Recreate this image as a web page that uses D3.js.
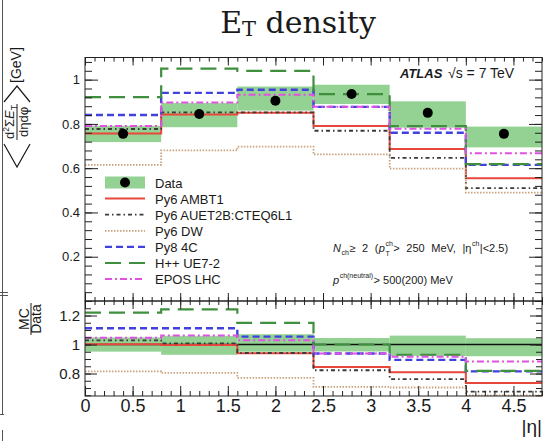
<!DOCTYPE html>
<html>
<head>
<meta charset="utf-8">
<script src="https://cdn.jsdelivr.net/npm/d3@7"></script>
<style>
  html, body { margin: 0; padding: 0; background: #fff; }
  svg { display: block; }
  text { font-family: "Liberation Sans", Arial, Helvetica, sans-serif; fill: #1a1a1a; }
</style>
</head>
<body>
<svg id="chart" width="544" height="441"></svg>
<script>
// ---- data: transverse-energy density per |eta| bin ----
const binEdges = [0, 0.8, 1.6, 2.4, 3.2, 4.0, 4.8];
const dataValues = [0.755, 0.845, 0.905, 0.935, 0.850, 0.755];
const dataErrUp   = [0.037, 0.049, 0.064, 0.042, 0.052, 0.033];
const dataErrDown = [0.037, 0.060, 0.045, 0.045, 0.067, 0.061];

const seriesNames = ["Py6 AMBT1", "Py6 AUET2B:CTEQ6L1", "Py6 DW", "Py8 4C", "H++ UE7-2", "EPOS LHC"];
const py6Ambt1  = [0.757, 0.842, 0.850, 0.790, 0.687, 0.555];
const py6Auet2b = [0.777, 0.852, 0.852, 0.769, 0.647, 0.510];
const py6Dw     = [0.615, 0.680, 0.697, 0.662, 0.598, 0.490];
const py8C4     = [0.840, 0.940, 0.954, 0.877, 0.760, 0.615];
const herwigUe7 = [0.921, 1.050, 1.040, 0.935, 0.790, 0.618];
const eposLhc   = [0.790, 0.897, 0.932, 0.877, 0.778, 0.667];

const xTickValues = [0, 0.5, 1, 1.5, 2, 2.5, 3, 3.5, 4, 4.5];
const mainTickValues = [0.2, 0.4, 0.6, 0.8, 1];
const ratioTickValues = [0.8, 1, 1.2];

// ---- drawing ----
const seriesValues = [py6Ambt1, py6Auet2b, py6Dw, py8C4, herwigUe7, eposLhc];
const seriesStyle = {
  "Py6 AMBT1":          { color: "#e8473b", width: 2.0, dash: null },
  "Py6 AUET2B:CTEQ6L1": { color: "#3a3a3a", width: 1.8, dash: "4,3,1.5,3" },
  "Py6 DW":             { color: "#c9a27e", width: 1.8, dash: "1.5,1.5" },
  "Py8 4C":             { color: "#4141de", width: 2.4, dash: "7,4" },
  "H++ UE7-2":          { color: "#3f8f3f", width: 2.2, dash: "16,8" },
  "EPOS LHC":           { color: "#e052e0", width: 2.0, dash: "7,3,2,3" }
};
const bandColor = "#93d293";

const svg = d3.select("#chart");
const X0 = 85, X1 = 542;
const MT = 57.5, MB = 301, RT = 301, RB = 396;

const x = d3.scaleLinear().domain([0, 4.8]).range([X0, X1]);
const yMain = d3.scaleLinear().domain([0, 1.1]).range([MB, MT]);
const yRatio = d3.scaleLinear().domain([0.645, 1.3]).range([RB, RT]);

// frame remnants at the left edge of the slide
const deco = svg.append("g").attr("stroke", "#555").attr("stroke-width", 1);
deco.append("line").attr("x1", 2.5).attr("x2", 2.5).attr("y1", 0).attr("y2", 415);
deco.append("line").attr("x1", 0).attr("x2", 4).attr("y1", 414.5).attr("y2", 414.5);
deco.append("line").attr("x1", 0).attr("x2", 8).attr("y1", 292.5).attr("y2", 292.5);
deco.append("line").attr("x1", 0).attr("x2", 8).attr("y1", 295.5).attr("y2", 295.5);
deco.append("line").attr("x1", 2.5).attr("x2", 2.5).attr("y1", 430).attr("y2", 441);

// title
const title = svg.append("text")
  .attr("x", 298).attr("y", 33)
  .attr("text-anchor", "middle")
  .style("font-family", "'DejaVu Serif', 'Liberation Serif', serif")
  .style("font-size", "30px");
title.append("tspan").text("E");
title.append("tspan").attr("dy", 3).style("font-size", "21px").text("T");
title.append("tspan").attr("dy", -3).text(" density");

// clip regions
const defs = svg.append("defs");
defs.append("clipPath").attr("id", "clipMain").append("rect")
  .attr("x", X0).attr("y", MT).attr("width", X1 - X0).attr("height", MB - MT);
defs.append("clipPath").attr("id", "clipRatio").append("rect")
  .attr("x", X0).attr("y", RT).attr("width", X1 - X0).attr("height", RB - RT);

const stepLine = (yScale) => d3.line()
  .x(d => x(d[0])).y(d => yScale(d[1]))
  .curve(d3.curveStepAfter);
const stepPoints = vals => binEdges.map((e, i) => [e, vals[Math.min(i, vals.length - 1)]]);

// ---- main panel ----
const gMain = svg.append("g").attr("clip-path", "url(#clipMain)");
gMain.selectAll("rect.band").data(dataValues).join("rect")
  .attr("class", "band")
  .attr("x", (d, i) => x(binEdges[i]))
  .attr("width", (d, i) => x(binEdges[i + 1]) - x(binEdges[i]))
  .attr("y", (d, i) => yMain(d + dataErrUp[i]))
  .attr("height", (d, i) => yMain(d - dataErrDown[i]) - yMain(d + dataErrUp[i]))
  .attr("fill", bandColor);

seriesNames.forEach((name, k) => {
  const st = seriesStyle[name];
  gMain.append("path")
    .attr("d", stepLine(yMain)(stepPoints(seriesValues[k])))
    .attr("fill", "none").attr("stroke", st.color)
    .attr("stroke-width", st.width)
    .attr("stroke-dasharray", st.dash);
});

gMain.selectAll("circle.pt").data(dataValues).join("circle")
  .attr("class", "pt")
  .attr("cx", (d, i) => x((binEdges[i] + binEdges[i + 1]) / 2))
  .attr("cy", d => yMain(d))
  .attr("r", 5).attr("fill", "#000");

// ---- ratio panel ----
const gRatio = svg.append("g").attr("clip-path", "url(#clipRatio)");
gRatio.selectAll("rect.band").data(dataValues).join("rect")
  .attr("class", "band")
  .attr("x", (d, i) => x(binEdges[i]))
  .attr("width", (d, i) => x(binEdges[i + 1]) - x(binEdges[i]))
  .attr("y", (d, i) => yRatio(1 + dataErrUp[i] / d))
  .attr("height", (d, i) => yRatio(1 - dataErrDown[i] / d) - yRatio(1 + dataErrUp[i] / d))
  .attr("fill", bandColor);
gRatio.append("path")
  .attr("d", stepLine(yRatio)(stepPoints(dataValues.map(() => 1))))
  .attr("fill", "none").attr("stroke", "#111").attr("stroke-width", 1.6);

seriesNames.forEach((name, k) => {
  const st = seriesStyle[name];
  const ratio = seriesValues[k].map((v, i) => v / dataValues[i]);
  gRatio.append("path")
    .attr("d", stepLine(yRatio)(stepPoints(ratio)))
    .attr("fill", "none").attr("stroke", st.color)
    .attr("stroke-width", st.width)
    .attr("stroke-dasharray", st.dash);
});

// ---- axes (inward ticks on all sides) ----
function styleAxis(g) {
  g.select(".domain").remove();
  g.selectAll(".tick line").attr("stroke", "#222").attr("stroke-width", 1);
  return g;
}
const xMinor = d3.range(0, 48.01, 1).map(v => v / 10);
const mainMinor = d3.range(0, 27.51, 1).map(v => v * 0.04);
const ratioMinor = d3.range(13, 26.01, 1).map(v => v * 0.05);

// main panel left
svg.append("g").attr("transform", `translate(${X0},0)`)
  .call(d3.axisLeft(yMain).tickValues(mainMinor).tickSize(-7).tickFormat(""))
  .call(styleAxis);
svg.append("g").attr("transform", `translate(${X0},0)`)
  .call(d3.axisLeft(yMain).tickValues(mainTickValues).tickSize(-13).tickPadding(5).tickFormat(d3.format("~g")))
  .call(styleAxis)
  .call(g => g.selectAll("text").style("font-size", "13px").attr("fill", "#1a1a1a"));
// main panel right
svg.append("g").attr("transform", `translate(${X1},0)`)
  .call(d3.axisRight(yMain).tickValues(mainMinor).tickSize(-7).tickFormat(""))
  .call(styleAxis);
svg.append("g").attr("transform", `translate(${X1},0)`)
  .call(d3.axisRight(yMain).tickValues(mainTickValues).tickSize(-13).tickFormat(""))
  .call(styleAxis);
// main panel top and bottom
svg.append("g").attr("transform", `translate(0,${MT})`)
  .call(d3.axisTop(x).tickValues(xMinor).tickSize(-4).tickFormat(""))
  .call(styleAxis);
svg.append("g").attr("transform", `translate(0,${MT})`)
  .call(d3.axisTop(x).tickValues(xTickValues).tickSize(-8).tickFormat(""))
  .call(styleAxis);
svg.append("g").attr("transform", `translate(0,${MB})`)
  .call(d3.axisBottom(x).tickValues(xMinor).tickSize(-4).tickFormat(""))
  .call(styleAxis);
svg.append("g").attr("transform", `translate(0,${MB})`)
  .call(d3.axisBottom(x).tickValues(xTickValues).tickSize(-8).tickFormat(""))
  .call(styleAxis);

// ratio panel left / right
svg.append("g").attr("transform", `translate(${X0},0)`)
  .call(d3.axisLeft(yRatio).tickValues(ratioMinor).tickSize(-6).tickFormat(""))
  .call(styleAxis);
svg.append("g").attr("transform", `translate(${X0},0)`)
  .call(d3.axisLeft(yRatio).tickValues(ratioTickValues).tickSize(-12).tickPadding(5).tickFormat(d3.format("~g")))
  .call(styleAxis)
  .call(g => g.selectAll("text").style("font-size", "15px").attr("fill", "#1a1a1a"));
svg.append("g").attr("transform", `translate(${X1},0)`)
  .call(d3.axisRight(yRatio).tickValues(ratioMinor).tickSize(-6).tickFormat(""))
  .call(styleAxis);
svg.append("g").attr("transform", `translate(${X1},0)`)
  .call(d3.axisRight(yRatio).tickValues(ratioTickValues).tickSize(-12).tickFormat(""))
  .call(styleAxis);
// ratio panel top / bottom
svg.append("g").attr("transform", `translate(0,${RT})`)
  .call(d3.axisTop(x).tickValues(xMinor).tickSize(-4).tickFormat(""))
  .call(styleAxis);
svg.append("g").attr("transform", `translate(0,${RT})`)
  .call(d3.axisTop(x).tickValues(xTickValues).tickSize(-8).tickFormat(""))
  .call(styleAxis);
svg.append("g").attr("transform", `translate(0,${RB})`)
  .call(d3.axisBottom(x).tickValues(xMinor).tickSize(-5).tickFormat(""))
  .call(styleAxis);
svg.append("g").attr("transform", `translate(0,${RB})`)
  .call(d3.axisBottom(x).tickValues(xTickValues).tickSize(-10).tickPadding(3).tickFormat(d3.format("~g")))
  .call(styleAxis)
  .call(g => g.selectAll("text").style("font-size", "18px").attr("fill", "#1a1a1a"));

// panel frames
svg.append("rect").attr("x", X0).attr("y", MT).attr("width", X1 - X0).attr("height", MB - MT)
  .attr("fill", "none").attr("stroke", "#222").attr("stroke-width", 1);
svg.append("rect").attr("x", X0).attr("y", RT).attr("width", X1 - X0).attr("height", RB - RT)
  .attr("fill", "none").attr("stroke", "#222").attr("stroke-width", 1);

// x axis title
svg.append("text").attr("x", 542).attr("y", 433).attr("text-anchor", "end")
  .style("font-size", "19px").text("|η|");

// main y axis title: <d²ΣE_T / dηdφ> [GeV], rotated
const yl = svg.append("g").attr("transform", "translate(16,112) rotate(-90)");
const num = yl.append("text").attr("x", -10).attr("y", -2.5).attr("text-anchor", "middle").style("font-size", "13px");
num.append("tspan").text("d");
num.append("tspan").attr("dy", -5).style("font-size", "8.5px").text("2");
num.append("tspan").attr("dy", 5).text("Σ");
num.append("tspan").style("font-style", "italic").text("E");
num.append("tspan").attr("dy", 3).style("font-size", "8.5px").text("T");
yl.append("text").attr("x", -10).attr("y", 12).attr("text-anchor", "middle").style("font-size", "13px").text("dηdφ");
yl.append("line").attr("x1", -28).attr("x2", 8).attr("y1", 1).attr("y2", 1)
  .attr("stroke", "#1a1a1a").attr("stroke-width", 1);
yl.append("path").attr("d", "M-32,-12 L-55,1 L-32,14").attr("fill", "none").attr("stroke", "#1a1a1a").attr("stroke-width", 1.2);
yl.append("path").attr("d", "M10,-12 L26,1 L10,14").attr("fill", "none").attr("stroke", "#1a1a1a").attr("stroke-width", 1.2);
yl.append("text").attr("x", 29).attr("y", 5).style("font-size", "14px").text("[GeV]");

// ratio y axis title: MC / Data, rotated
const rl = svg.append("g").attr("transform", "translate(31,319) rotate(-90)");
rl.append("text").attr("x", 0).attr("y", -2).attr("text-anchor", "middle").style("font-size", "14px").text("MC");
rl.append("text").attr("x", 0).attr("y", 10).attr("text-anchor", "middle").style("font-size", "14px").text("Data");
rl.append("line").attr("x1", -16).attr("x2", 16).attr("y1", 0).attr("y2", 0)
  .attr("stroke", "#1a1a1a").attr("stroke-width", 1);

// experiment label
svg.append("text").attr("x", 400).attr("y", 78)
  .style("font-size", "13px").style("font-weight", "bold").style("font-style", "italic").text("ATLAS");
svg.append("text").attr("x", 448).attr("y", 78).style("font-size", "14px").text("√s = 7 TeV");

// legend
const legend = svg.append("g");
const rowY = i => 182.5 + i * 16.1;
legend.append("rect").attr("x", 105).attr("y", rowY(0) - 6).attr("width", 40).attr("height", 12).attr("fill", bandColor);
legend.append("circle").attr("cx", 125).attr("cy", rowY(0)).attr("r", 5).attr("fill", "#000");
legend.append("text").attr("x", 155).attr("y", rowY(0) + 5).style("font-size", "13px").text("Data");
seriesNames.forEach((name, k) => {
  const st = seriesStyle[name];
  const yy = rowY(k + 1);
  legend.append("line").attr("x1", 105).attr("x2", 145).attr("y1", yy).attr("y2", yy)
    .attr("stroke", st.color).attr("stroke-width", st.width).attr("stroke-dasharray", st.dash);
  legend.append("text").attr("x", 155).attr("y", yy + 5).style("font-size", "13px").text(name);
});

// selection annotations: pieces laid out left to right; a "stack" piece shares its x
// with the following piece, and the cursor then advances by the wider of the two
function richLine(x0, y0, parts, wordGap) {
  let cx = x0, pending = 0;
  parts.forEach(p => {
    const t = svg.append("text").attr("x", cx).attr("y", y0 + (p.dy || 0))
      .style("font-size", (p.size || 11) + "px")
      .style("font-style", p.italic ? "italic" : "normal")
      .style("word-spacing", (wordGap || 0) + "px")
      .text(p.t);
    const w = t.node().getComputedTextLength();
    if (p.stack) { pending = w; }
    else { cx += Math.max(w, pending) + 0.5; pending = 0; }
  });
}
richLine(333, 252, [
  { t: "N", italic: true },
  { t: "ch", size: 7, dy: 3 },
  { t: " ≥ 2 (" },
  { t: "p", italic: true },
  { t: "ch", size: 7, dy: -6.5, stack: true },
  { t: "T", size: 7, dy: 4 },
  { t: " > 250 MeV, |η" },
  { t: "ch", size: 7, dy: -6 },
  { t: "|<2.5)" }
], 3.5);
richLine(333, 284, [
  { t: "p", italic: true },
  { t: "ch(neutral)", size: 7, dy: -6 },
  { t: " > 500(200) MeV" }
]);
</script>
</body>
</html>
